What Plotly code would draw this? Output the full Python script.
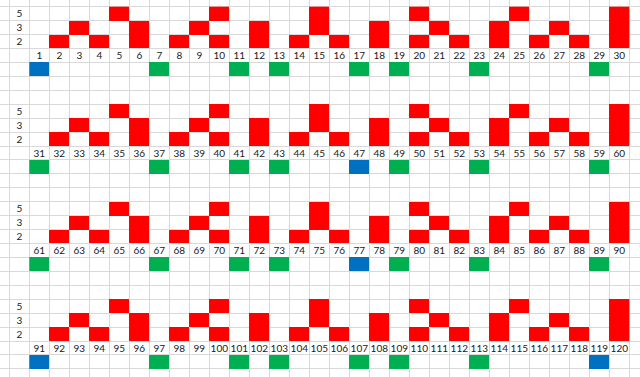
import plotly.graph_objects as go

# ---- data ----
numbers = list(range(1, 121))          # cell labels 1..120, 30 per block
levels = ["5", "3", "2"]               # row labels in the left column

red5 = [5, 10, 15, 20, 25, 30, 35, 40, 45, 50, 55, 60, 65, 70, 75, 80, 85, 90,
        95, 100, 105, 110, 115, 120]
red3 = [3, 6, 9, 12, 15, 18, 21, 24, 27, 30, 33, 36, 39, 42, 45, 48, 51, 54, 57, 60,
        63, 66, 69, 72, 75, 78, 81, 84, 87, 90, 93, 96, 99, 102, 105, 108, 111, 114,
        117, 120]
red2 = [2, 4, 6, 8, 10, 12, 14, 16, 18, 20, 22, 24, 26, 28, 30, 32, 34, 36, 38, 40,
        42, 44, 46, 48, 50, 52, 54, 56, 58, 60, 62, 64, 66, 68, 70, 72, 74, 76, 78, 80,
        82, 84, 86, 88, 90, 92, 94, 96, 98, 100, 102, 104, 106, 108, 110, 112, 114,
        116, 118, 120]
blue_cells = [1, 47, 77, 91, 119]
green_cells = [7, 11, 13, 17, 19, 23, 29, 31, 37, 41, 43, 49, 53, 59, 61, 67, 71, 73,
               79, 83, 89, 97, 101, 103, 107, 109, 113]

# ---- layout of the sheet ----
PER_BLOCK = 30
ROWS_PER_BLOCK = 7
N_BLOCKS = 4
N_ROWS = 27

RED, GREEN, BLUE = "#FF0000", "#00B050", "#0070C0"


def cell(n):
    b = (n - 1) // PER_BLOCK
    c = (n - 1) % PER_BLOCK + 1
    return b, c


z = [[None] * PER_BLOCK for _ in range(N_ROWS)]
for lvl_idx, lst in enumerate([red5, red3, red2]):
    for n in lst:
        b, c = cell(n)
        z[b * ROWS_PER_BLOCK + lvl_idx][c - 1] = 1
for n in green_cells:
    b, c = cell(n)
    z[b * ROWS_PER_BLOCK + 4][c - 1] = 2
for n in blue_cells:
    b, c = cell(n)
    z[b * ROWS_PER_BLOCK + 4][c - 1] = 3

fig = go.Figure()
fig.add_trace(go.Heatmap(
    z=z, x=list(range(1, PER_BLOCK + 1)), y=list(range(N_ROWS)),
    zmin=1, zmax=3, showscale=False, hoverinfo="skip",
    colorscale=[[0, RED], [0.333, RED], [0.334, GREEN], [0.666, GREEN],
                [0.667, BLUE], [1, BLUE]],
))

FONT = dict(family="Lato, Calibri, sans-serif", size=10, color="#1a1a1a")
DY = 0.09

nx, ny, nt = [], [], []
for n in numbers:
    b, c = cell(n)
    nx.append(c)
    ny.append(b * ROWS_PER_BLOCK + 3 + DY)
    nt.append(str(n))
fig.add_trace(go.Scatter(x=nx, y=ny, text=nt, mode="text", textfont=FONT,
                         hoverinfo="skip", showlegend=False))

lx, ly, lt = [], [], []
for b in range(N_BLOCKS):
    for i, lab in enumerate(levels):
        lx.append(0)
        ly.append(b * ROWS_PER_BLOCK + i + DY)
        lt.append(lab)
fig.add_trace(go.Scatter(x=lx, y=ly, text=lt, mode="text", textfont=FONT,
                         hoverinfo="skip", showlegend=False))

GRID = "#d9d9d9"
fig.update_layout(
    width=640, height=377, margin=dict(l=0, r=0, t=0, b=0),
    paper_bgcolor="white", plot_bgcolor="white", showlegend=False,
    xaxis=dict(range=[-0.965, 31.035], tickmode="linear", tick0=-0.5, dtick=1,
               showgrid=True, gridcolor=GRID, gridwidth=1, zeroline=False,
               showticklabels=False, ticks="", showline=False, fixedrange=True),
    yaxis=dict(range=[26.08, -0.981], tickmode="linear", tick0=-0.5, dtick=1,
               showgrid=True, gridcolor=GRID, gridwidth=1, zeroline=False,
               showticklabels=False, ticks="", showline=False, fixedrange=True),
)

fig.write_html("out.html", config={"displayModeBar": False})
